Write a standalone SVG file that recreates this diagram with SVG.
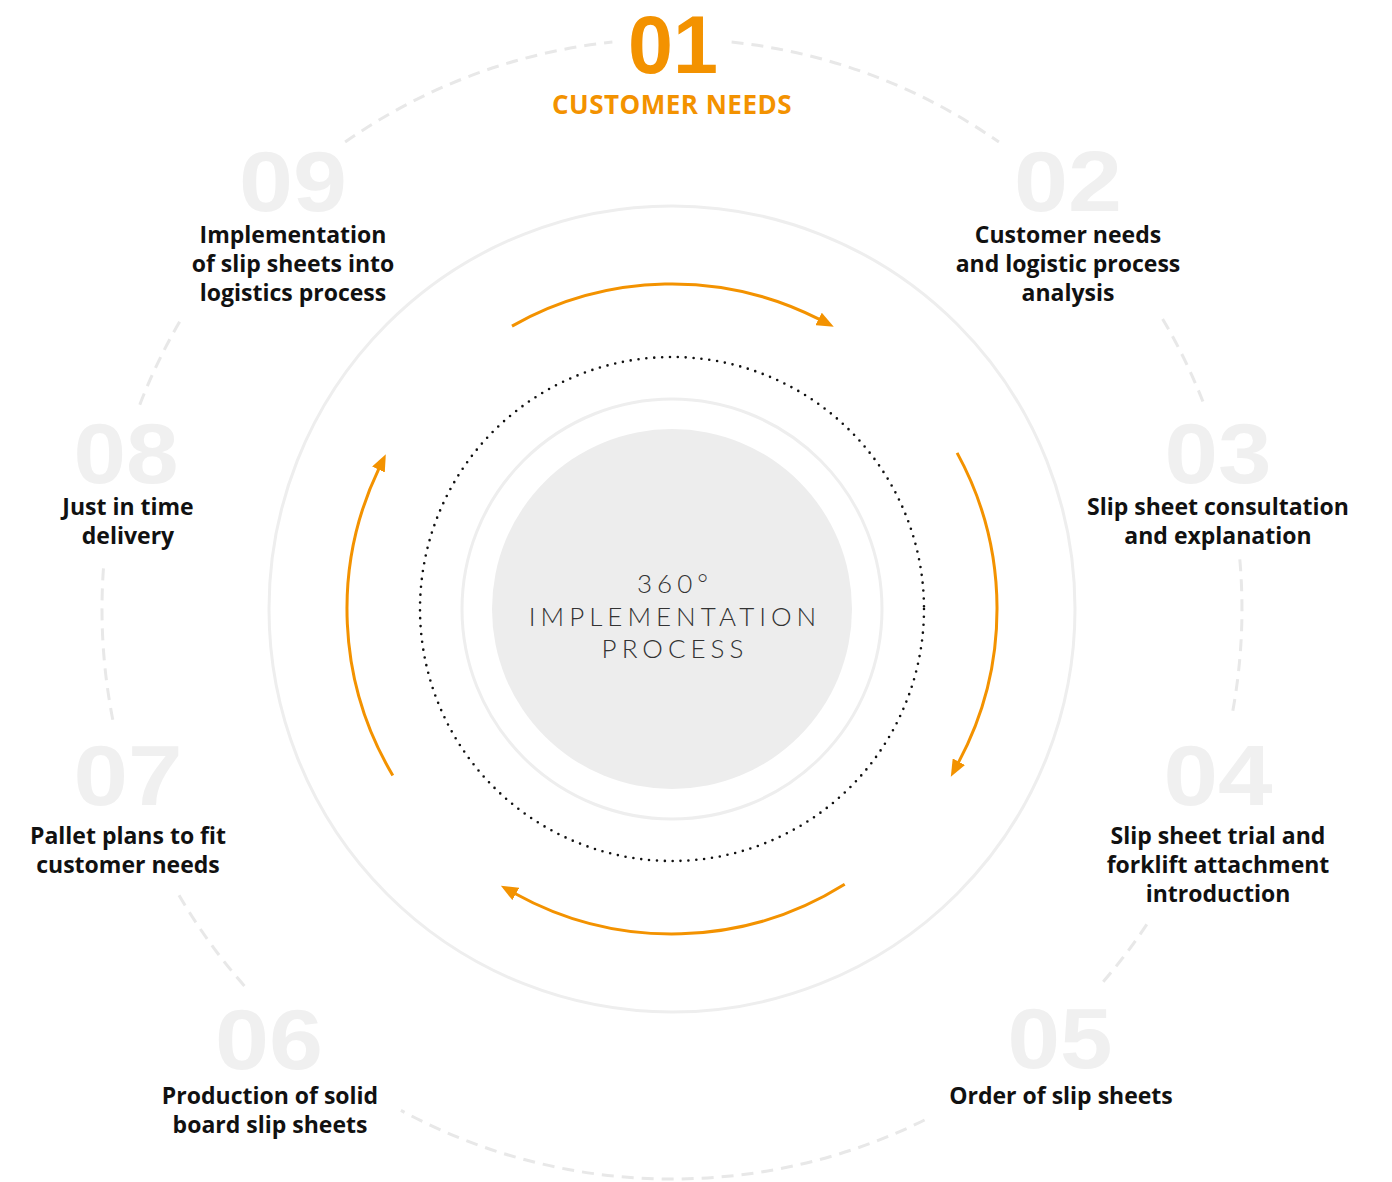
<svg xmlns="http://www.w3.org/2000/svg" width="1392" height="1182" viewBox="0 0 1392 1182">
  <defs>
    <style>
      .bg { fill: #ffffff; }
      .ring { fill: none; stroke: #eeeeee; stroke-width: 3; }
      .dash { fill: none; stroke: #e8e8e8; stroke-width: 3; stroke-dasharray: 12 8; }
      .dots { fill: none; stroke: #111111; stroke-width: 2.6; stroke-linecap: round; stroke-dasharray: 0 7.9; }
      .arc { fill: none; stroke: #f39200; stroke-width: 3; }
      .num { font-family: "Liberation Sans", Arial, sans-serif; font-weight: 700; font-size: 86px; fill: #f0f0f0; text-anchor: middle; }
      .num1 { fill: #f39200; font-size: 82px; }
      .lbl { font-family: "Open Sans", "Liberation Sans", sans-serif; font-weight: 700; font-size: 23px; fill: #111111; text-anchor: middle; }
      .head { font-family: "Open Sans", "Liberation Sans", sans-serif; font-weight: 700; font-size: 26px; fill: #f39200; text-anchor: middle; letter-spacing: 0.5px; }
      .center { font-family: Lato, "Open Sans", sans-serif; font-weight: 300; font-size: 26px; fill: #333333; text-anchor: middle; }
    </style>
    <marker id="arrow" markerUnits="userSpaceOnUse" viewBox="0 0 17 14" markerWidth="17" markerHeight="14" refX="1" refY="7" orient="auto">
      <path d="M0,0 L17,7 L0,14 z" fill="#f39200"/>
    </marker>
  </defs>
  <rect class="bg" x="0" y="0" width="1392" height="1182"/>

  <g id="rings">
    <path class="dash" d="M731.6,42.1 A570,570 0 0 1 998.9,142.1"/>
    <path class="dash" d="M1162.6,318.9 A570,570 0 0 1 1204.5,405.7"/>
    <path class="dash" d="M1239.8,559.3 A570,570 0 0 1 1231.5,717.8"/>
    <path class="dash" d="M1146.8,924.4 A570,570 0 0 1 1100.2,985.2"/>
    <path class="dash" d="M924.6,1120 A570,570 0 0 1 400.9,1110.4"/>
    <path class="dash" d="M244.4,985.9 A570,570 0 0 1 175.9,889.7"/>
    <path class="dash" d="M112.8,719.7 A570,570 0 0 1 104.1,560.3"/>
    <path class="dash" d="M139.8,404.7 A570,570 0 0 1 182.9,316.3"/>
    <path class="dash" d="M345.1,142.1 A570,570 0 0 1 612.4,42.1"/>
    <circle class="ring" cx="672" cy="609" r="403"/>
    <circle class="dots" cx="672" cy="609" r="252"/>
    <circle class="ring" cx="672" cy="609" r="210"/>
  </g>

  <g id="center">
    <circle cx="672" cy="609" r="180" fill="#ededed"/>
    <text class="center" x="675" y="593" letter-spacing="5">360°</text>
    <text class="center" x="675" y="626" letter-spacing="5">IMPLEMENTATION</text>
    <text class="center" x="675" y="658" letter-spacing="5">PROCESS</text>
  </g>

  <g id="connectors">
    <path class="arc" d="M512,326.1 A325,325 0 0 1 819.5,319.4" marker-end="url(#arrow)"/>
    <path class="arc" d="M957.1,452.9 A325,325 0 0 1 958.4,762.6" marker-end="url(#arrow)"/>
    <path class="arc" d="M844.7,884.3 A325,325 0 0 1 514.9,893.5" marker-end="url(#arrow)"/>
    <path class="arc" d="M392.8,775.4 A325,325 0 0 1 378.9,468.6" marker-end="url(#arrow)"/>
  </g>

  <g id="node-01">
    <text class="num num1" x="673" y="73" textLength="90" lengthAdjust="spacingAndGlyphs">01</text>
    <text class="head" x="672" y="114">CUSTOMER NEEDS</text>
  </g>
  <g id="node-02">
    <text class="num" x="1068" y="211" textLength="108" lengthAdjust="spacingAndGlyphs">02</text>
    <text class="lbl" x="1068" y="243">Customer needs</text>
    <text class="lbl" x="1068" y="272">and logistic process</text>
    <text class="lbl" x="1068" y="301">analysis</text>
  </g>
  <g id="node-03">
    <text class="num" x="1218" y="483" textLength="107" lengthAdjust="spacingAndGlyphs">03</text>
    <text class="lbl" x="1218" y="515">Slip sheet consultation</text>
    <text class="lbl" x="1218" y="544">and explanation</text>
  </g>
  <g id="node-04">
    <text class="num" x="1218" y="805" textLength="109" lengthAdjust="spacingAndGlyphs">04</text>
    <text class="lbl" x="1218" y="844">Slip sheet trial and</text>
    <text class="lbl" x="1218" y="873">forklift attachment</text>
    <text class="lbl" x="1218" y="902">introduction</text>
  </g>
  <g id="node-05">
    <text class="num" x="1060" y="1068" textLength="105" lengthAdjust="spacingAndGlyphs">05</text>
    <text class="lbl" x="1061" y="1104">Order of slip sheets</text>
  </g>
  <g id="node-06">
    <text class="num" x="269" y="1069" textLength="108" lengthAdjust="spacingAndGlyphs">06</text>
    <text class="lbl" x="270" y="1104">Production of solid</text>
    <text class="lbl" x="270" y="1133">board slip sheets</text>
  </g>
  <g id="node-07">
    <text class="num" x="128" y="805" textLength="109" lengthAdjust="spacingAndGlyphs">07</text>
    <text class="lbl" x="128" y="844">Pallet plans to fit</text>
    <text class="lbl" x="128" y="873">customer needs</text>
  </g>
  <g id="node-08">
    <text class="num" x="126" y="483" textLength="105" lengthAdjust="spacingAndGlyphs">08</text>
    <text class="lbl" x="128" y="515">Just in time</text>
    <text class="lbl" x="128" y="544">delivery</text>
  </g>
  <g id="node-09">
    <text class="num" x="293" y="211" textLength="108" lengthAdjust="spacingAndGlyphs">09</text>
    <text class="lbl" x="293" y="243">Implementation</text>
    <text class="lbl" x="293" y="272">of slip sheets into</text>
    <text class="lbl" x="293" y="301">logistics process</text>
  </g>
</svg>
